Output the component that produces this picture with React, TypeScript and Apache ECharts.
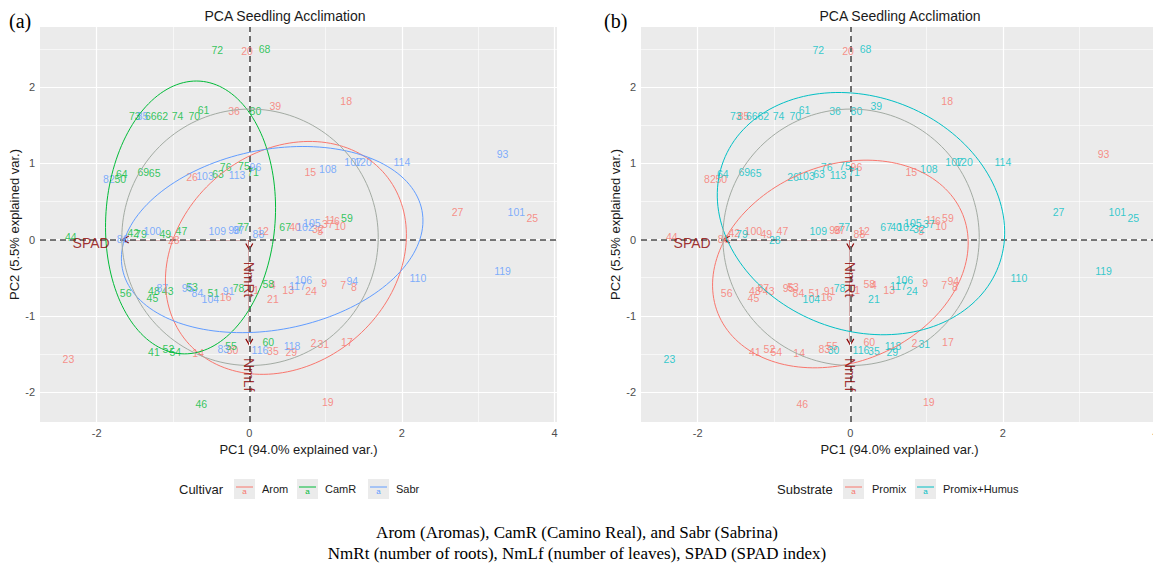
import React, { useEffect, useRef } from "react";
import * as echarts from "echarts";

// ---- Observations (PCA scores) ----
const obsId = [1, 2, 4, 5, 6, 7, 8, 9, 10, 11, 12, 13, 14, 15, 16, 17, 18, 19, 20, 21, 23, 24, 25, 26, 27, 28, 29, 30, 31, 32, 35, 36, 37, 39, 40,
  41, 42, 43, 44, 45, 46, 47, 48, 49, 50, 51, 52, 53, 54, 55, 56, 58, 59, 60, 61, 62, 63, 64, 65, 66, 67, 68, 69, 70, 71, 72, 73, 74, 75, 76, 77, 78, 79, 80,
  82, 83, 84, 85, 86, 87, 88, 91, 93, 94, 95, 96, 97, 98, 100, 101, 102, 103, 104, 105, 106, 107, 108, 109, 110, 113, 114, 116, 117, 118, 119, 120];
const obsPC1 = [0.09, 0.84, 0.31, 0.93, 1.15, 1.23, 1.37, 0.98, 1.19, 1.06, 0.18, 0.51, -0.67, 0.80, -0.31, 1.28, 1.27, 1.03, -0.03, 0.31, -2.37, 0.81, 3.71, -0.75, 2.73, -0.99, 0.55, -0.22, 0.97, 0.90, 0.31, -0.20, 1.03, 0.34, 0.60,
  -1.25, -1.52, -1.07, -2.34, -1.27, -0.63, -0.89, -1.25, -1.10, -1.69, -0.47, -1.06, -0.75, -0.97, -0.24, -1.62, 0.25, 1.28, 0.25, -0.60, -1.14, -0.41, -1.67, -1.24, -1.29, 0.47, 0.20, -1.39, -0.72, 0.05, -0.42, -1.50, -0.94, -0.07, -0.31, -0.08, -0.14, -1.42, 0.08,
  -1.84, -0.34, -0.68, -1.40, -1.66, -1.14, 0.12, -0.27, 3.32, 1.35, -0.81, 0.08, -0.14, -0.20, -1.27, 3.50, 0.73, -0.58, -0.51, 0.82, 0.71, 1.36, 1.03, -0.42, 2.21, -0.16, 2.00, 0.14, 0.63, 0.56, 3.32, 1.49];
const obsPC2 = [-0.66, -1.36, -0.59, 0.11, 0.24, -0.59, -0.62, -0.57, 0.18, 0.25, 0.11, -0.66, -1.49, 0.89, -0.75, -1.34, 1.82, -2.13, 2.47, -0.78, -1.57, -0.67, 0.28, 0.82, 0.36, -0.01, -1.47, -1.45, -1.37, 0.14, -1.46, 1.68, 0.21, 1.75, 0.16,
  -1.47, 0.09, -0.68, 0.04, -0.76, -2.16, 0.11, -0.67, 0.07, 0.79, -0.70, -1.43, -0.62, -1.47, -1.39, -0.70, -0.58, 0.28, -1.34, 1.70, 1.62, 0.86, 0.86, 0.87, 1.62, 0.17, 2.50, 0.88, 1.62, 0.88, 2.49, 1.62, 1.62, 0.96, 0.95, 0.16, -0.64, 0.07, 1.68,
  0.79, -1.43, -0.70, 1.62, 0.01, -0.64, 0.07, -0.67, 1.12, -0.54, -0.64, 0.95, 0.12, 0.12, 0.11, 0.36, 0.16, 0.83, -0.78, 0.22, -0.53, 1.01, 0.93, 0.11, -0.50, 0.84, 1.01, -1.45, -0.61, -1.39, -0.41, 1.01];

// Design: ids 1-40 Arom, 41-80 CamR, 81-120 Sabr; within each block first 20 Promix, next 20 Promix+Humus
const cultivars = ["Arom", "CamR", "Sabr"];
const cultivarColors = ["#F8766D", "#00BA38", "#619CFF"];
const substrates = ["Promix", "Promix+Humus"];
const substrateColors = ["#F8766D", "#00BFC4"];
const cultivarOf = (id: number) => Math.floor((id - 1) / 40);
const substrateOf = (id: number) => (((id - 1) % 40) < 20 ? 0 : 1);

// ---- Variable loadings (arrows) ----
const loadNames = ["SPAD", "NmRt", "NmLf"];
const loadPC1 = [-1.66, 0, 0];
const loadPC2 = [0, -0.13, -1.38];
const loadLabelPC1 = [-1.83, 0, 0];
const loadLabelPC2 = [-0.05, -0.29, -1.55];
const loadLabelRotate = [0, -90, -90];
const loadLabelAlign = ["right", "left", "left"];

// ---- Ellipses (center, semi-axes, angle in degrees) ----
const leftEllColors = ["#F8766D", "#00BA38", "#619CFF", "#A2AAA2"];
const leftEllCx = [0.48, -0.77, 0.30, 0.01];
const leftEllCy = [-0.24, 0.29, 0.0, 0.03];
const leftEllA = [1.70, 1.79, 2.0, 1.68];
const leftEllB = [1.39, 1.11, 1.18, 1.68];
const leftEllAng = [40, 86, 11, 0];

const rightEllColors = ["#F8766D", "#00BFC4", "#A2AAA2"];
const rightEllCx = [-0.13, 0.14, 0.01];
const rightEllCy = [-0.32, 0.34, 0.03];
const rightEllA = [1.73, 1.93, 1.68];
const rightEllB = [1.29, 1.53, 1.68];
const rightEllAng = [22, -21, 0];

// ---- Axes ----
const X_MIN = -2.743, X_MAX = 4.033;
const Y_MIN = -2.39, Y_MAX = 2.785;
const xTicks = [-2, 0, 2, 4];
const yTicks = [-2, -1, 0, 1, 2];
const xMinor = [-1, 1, 3];
const yMinor = [-1.5, -0.5, 0.5, 1.5, 2.5];

const SANS = "Liberation Sans, Arial, sans-serif";
const SERIF = "Liberation Serif, Times New Roman, serif";
const ARROW = "#8B0000";

function ellipsePts(cx: number, cy: number, a: number, b: number, deg: number) {
  const th = (deg * Math.PI) / 180;
  const pts: number[][] = [];
  for (let i = 0; i <= 160; i++) {
    const t = (i / 160) * 2 * Math.PI;
    pts.push([
      cx + a * Math.cos(t) * Math.cos(th) - b * Math.sin(t) * Math.sin(th),
      cy + a * Math.cos(t) * Math.sin(th) + b * Math.sin(t) * Math.cos(th),
    ]);
  }
  return pts;
}

function panelSeries(idx: number, groupNames: string[], groupColors: string[], groupOf: (id: number) => number,
  ellColors: string[], ellCx: number[], ellCy: number[], ellA: number[], ellB: number[], ellAng: number[]) {
  const ax = { xAxisIndex: idx, yAxisIndex: idx };
  const s: any[] = [];
  s.push({
    type: "scatter", ...ax, data: [], silent: true, z: 1,
    markLine: { silent: true, symbol: ["none", "none"], label: { show: false },
      lineStyle: { color: "#FFFFFF", width: 1.2, type: "solid" },
      data: [...xTicks.map((v) => ({ xAxis: v })), ...yTicks.map((v) => ({ yAxis: v }))] },
  });
  s.push({
    type: "scatter", ...ax, data: [], silent: true, z: 1,
    markLine: { silent: true, symbol: ["none", "none"], label: { show: false },
      lineStyle: { color: "#FFFFFF", width: 0.6, type: "solid" },
      data: [...xMinor.map((v) => ({ xAxis: v })), ...yMinor.map((v) => ({ yAxis: v }))] },
  });
  s.push({
    type: "scatter", ...ax, data: [], silent: true, z: 2,
    markLine: { silent: true, symbol: ["none", "none"], label: { show: false },
      lineStyle: { color: "#4D4D4D", width: 1.6, type: [6, 4] },
      data: [{ xAxis: 0 }, { yAxis: 0 }] },
  });
  // arrows
  s.push({
    type: "custom", ...ax, z: 4, silent: true,
    data: loadPC1.map((x, i) => [0, 0, x, loadPC2[i]]),
    encode: { x: [0, 2], y: [1, 3] },
    renderItem: (_p: any, api: any) => {
      const p0 = api.coord([api.value(0), api.value(1)]);
      const p1 = api.coord([api.value(2), api.value(3)]);
      const ang = Math.atan2(p1[1] - p0[1], p1[0] - p0[0]);
      const L = 7, sp = Math.PI / 6;
      const h1 = [p1[0] - L * Math.cos(ang - sp), p1[1] - L * Math.sin(ang - sp)];
      const h2 = [p1[0] - L * Math.cos(ang + sp), p1[1] - L * Math.sin(ang + sp)];
      return {
        type: "group",
        children: [
          { type: "line", shape: { x1: p0[0], y1: p0[1], x2: p1[0], y2: p1[1] }, style: { stroke: ARROW, lineWidth: 1.2 } },
          { type: "polyline", shape: { points: [h1, p1, h2] }, style: { stroke: ARROW, fill: null, lineWidth: 1.2 } },
        ],
      };
    },
  });
  // point labels
  groupNames.forEach((g, gi) => {
    const data: any[] = [];
    obsId.forEach((id, i) => {
      if (groupOf(id) === gi) data.push([obsPC1[i], obsPC2[i], id]);
    });
    s.push({
      type: "scatter", name: g, ...ax, z: 5, symbolSize: 1, silent: true,
      itemStyle: { color: "rgba(0,0,0,0)" },
      label: { show: true, position: "inside", formatter: (p: any) => String(p.value[2]),
        color: groupColors[gi], fontSize: 10.5, fontFamily: SANS },
      data,
    });
  });
  // ellipses
  ellColors.forEach((c, ei) => {
    s.push({
      type: "line", ...ax, z: 6, silent: true, showSymbol: false, symbol: "none",
      lineStyle: { color: c, width: 1 },
      data: ellipsePts(ellCx[ei], ellCy[ei], ellA[ei], ellB[ei], ellAng[ei]),
    });
  });
  // variable labels
  s.push({
    type: "scatter", ...ax, z: 7, symbolSize: 1, silent: true,
    itemStyle: { color: "rgba(0,0,0,0)" },
    data: loadNames.map((n, i) => ({
      value: [loadLabelPC1[i], loadLabelPC2[i]],
      label: { show: true, position: "inside", formatter: n, rotate: loadLabelRotate[i], align: loadLabelAlign[i],
        verticalAlign: "middle", color: ARROW, fontSize: 14, fontFamily: SANS },
    })),
  });
  return s;
}

function legendGraphic(titleText: string, titleX: number, items: { box: number; text: string; tx: number; color: string }[]) {
  const y = 489;
  const els: any[] = [
    { type: "text", x: titleX, y, style: { text: titleText, fill: "#1A1A1A", font: `13px ${SANS}`, align: "left", verticalAlign: "middle" } },
  ];
  items.forEach((it) => {
    els.push({ type: "rect", shape: { x: it.box, y: y - 10, width: 21, height: 20 }, style: { fill: "#EBEBEB" } });
    els.push({ type: "line", shape: { x1: it.box + 2, y1: y - 2, x2: it.box + 19, y2: y - 2 }, style: { stroke: it.color, lineWidth: 1 } });
    els.push({ type: "text", x: it.box + 10.5, y: y + 2, style: { text: "a", fill: it.color, font: `8px ${SANS}`, align: "center", verticalAlign: "middle" } });
    els.push({ type: "text", x: it.tx, y, style: { text: it.text, fill: "#1A1A1A", font: `11px ${SANS}`, align: "left", verticalAlign: "middle" } });
  });
  return els;
}

export default function App() {
  const ref = useRef<HTMLDivElement>(null);
  useEffect(() => {
    if (!ref.current) return;
    const chart = echarts.init(ref.current, undefined, { renderer: "svg" });
    const mkX = (gi: number) => ({
      type: "value", gridIndex: gi, min: X_MIN, max: X_MAX,
      axisLine: { show: false }, splitLine: { show: false },
      axisTick: { show: true, customValues: xTicks, length: 4, lineStyle: { color: "#333333" } },
      axisLabel: { customValues: xTicks, color: "#4D4D4D", fontSize: 11, margin: 5, fontFamily: SANS },
      name: "PC1 (94.0% explained var.)", nameLocation: "middle", nameGap: 20,
      nameTextStyle: { fontSize: 13, color: "#1A1A1A", fontFamily: SANS },
    });
    const mkY = (gi: number) => ({
      type: "value", gridIndex: gi, min: Y_MIN, max: Y_MAX,
      axisLine: { show: false }, splitLine: { show: false },
      axisTick: { show: true, customValues: yTicks, length: 4, lineStyle: { color: "#333333" } },
      axisLabel: { customValues: yTicks, color: "#4D4D4D", fontSize: 11, margin: 5, fontFamily: SANS },
      name: "PC2 (5.5% explained var.)", nameLocation: "middle", nameGap: 15,
      nameTextStyle: { fontSize: 13, color: "#1A1A1A", fontFamily: SANS },
    });
    const option: any = {
      animation: false,
      backgroundColor: "#FFFFFF",
      grid: [
        { left: 40, top: 27, width: 517, height: 395, show: true, backgroundColor: "#EBEBEB", borderWidth: 0 },
        { left: 641, top: 27, width: 517, height: 395, show: true, backgroundColor: "#EBEBEB", borderWidth: 0 },
      ],
      xAxis: [mkX(0), mkX(1)],
      yAxis: [mkY(0), mkY(1)],
      series: [
        ...panelSeries(0, cultivars, cultivarColors, cultivarOf, leftEllColors, leftEllCx, leftEllCy, leftEllA, leftEllB, leftEllAng),
        ...panelSeries(1, substrates, substrateColors, substrateOf, rightEllColors, rightEllCx, rightEllCy, rightEllA, rightEllB, rightEllAng),
      ],
      graphic: [
        { type: "text", x: 285, y: 16, style: { text: "PCA Seedling Acclimation", fill: "#1A1A1A", font: `14px ${SANS}`, align: "center", verticalAlign: "middle" } },
        { type: "text", x: 900, y: 16, style: { text: "PCA Seedling Acclimation", fill: "#1A1A1A", font: `14px ${SANS}`, align: "center", verticalAlign: "middle" } },
        { type: "text", x: 9, y: 21, style: { text: "(a)", fill: "#000", font: `20px ${SERIF}`, align: "left", verticalAlign: "middle" } },
        { type: "text", x: 604, y: 21, style: { text: "(b)", fill: "#000", font: `20px ${SERIF}`, align: "left", verticalAlign: "middle" } },
        ...legendGraphic("Cultivar", 179, [
          { box: 234, text: "Arom", tx: 262, color: cultivarColors[0] },
          { box: 297, text: "CamR", tx: 325, color: cultivarColors[1] },
          { box: 368, text: "Sabr", tx: 396, color: cultivarColors[2] },
        ]),
        ...legendGraphic("Substrate", 777, [
          { box: 843, text: "Promix", tx: 872, color: substrateColors[0] },
          { box: 915, text: "Promix+Humus", tx: 943, color: substrateColors[1] },
        ]),
        { type: "text", x: 577, y: 532, style: { text: "Arom (Aromas), CamR (Camino Real), and Sabr (Sabrina)", fill: "#000", font: `17px ${SERIF}`, align: "center", verticalAlign: "middle" } },
        { type: "text", x: 577, y: 553, style: { text: "NmRt (number of roots), NmLf (number of leaves), SPAD (SPAD index)", fill: "#000", font: `17px ${SERIF}`, align: "center", verticalAlign: "middle" } },
      ],
    };
    chart.setOption(option);
    return () => chart.dispose();
  }, []);
  return <div ref={ref} style={{ position: "fixed", left: 0, top: 0, width: 1165, height: 568 }} />;
}
